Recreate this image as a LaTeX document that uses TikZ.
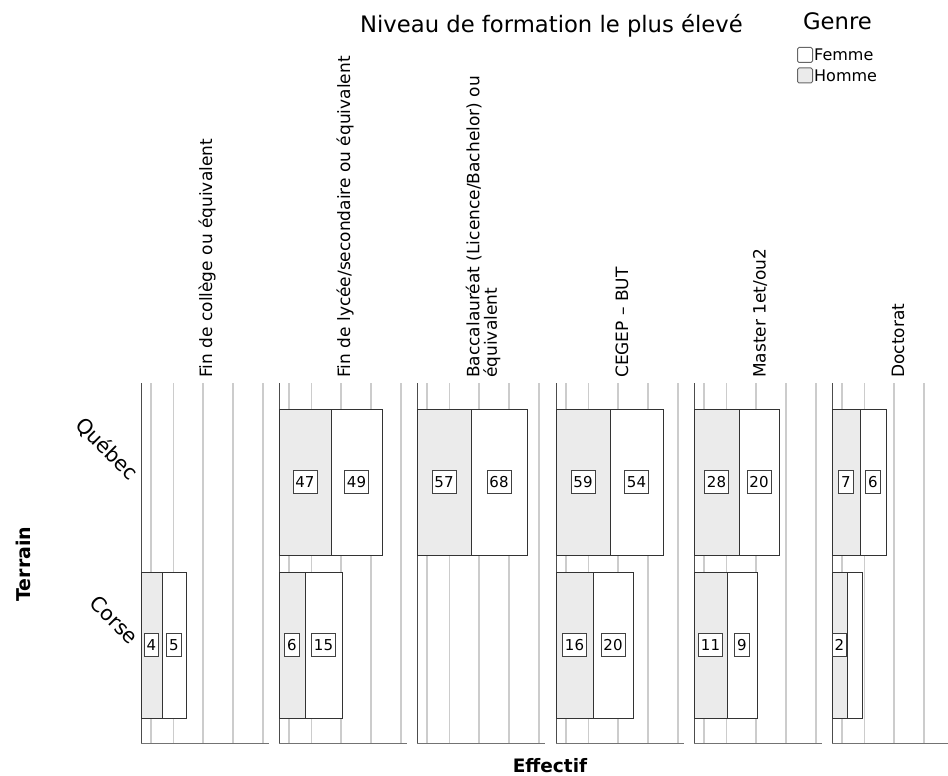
\documentclass[tikz,border=0pt]{standalone}
\usepackage{fontspec}
\setmainfont{DejaVu Sans}
\usepackage{tikz}
\usetikzlibrary{positioning}
\usetikzlibrary{calc}
\definecolor{gris homme}{HTML}{EBEBEB}
\definecolor{gris grille}{HTML}{CCCCCC}
\definecolor{gris trait}{HTML}{333333}
\tikzset{grille/.style={draw=gris grille,line width=1.2pt}}
\tikzset{bordure/.style={draw=black!70,line width=1pt}}
\tikzset{axe/.style={draw=black!55,line width=1pt}}
\tikzset{homme/.style={fill=gris homme,draw=gris trait,line width=0.9pt}}
\tikzset{femme/.style={fill=white,draw=gris trait,line width=0.9pt}}
\tikzset{etiquette/.style={draw=black!75,fill=white,line width=0.7pt,inner xsep=2.5pt,inner ysep=0pt,minimum height=23pt,font=\fontsize{15}{16}\selectfont}}
\tikzset{entete/.style={rotate=90,anchor=west,inner sep=0pt,align=left,font=\fontsize{17}{17.5}\selectfont}}
\tikzset{legende/.style={draw=black!60,line width=1pt,rounded corners=1.5pt,minimum size=15pt,inner sep=0pt}}
% grille d'un panneau, a l'origine du scope
\newcommand\grillepanneau{
	\foreach \g in {10,32.5,62,92,122}
		\draw[grille] (\g,383) -- (\g,743);
	\draw[bordure] (0,383) -- (0,743);
	\draw[axe] (0,743) -- (128,743);
}
% #1 haut, #2 fin homme, #3 fin femme, #4 et #5 effectifs, #6 nom
\newcommand\paire[6]{
	\draw[homme] (0,#1) rectangle (#2,#1+146);
	\draw[femme] (#2,#1) rectangle (#3,#1+146);
	\node[etiquette] (#6h) at (#2/2,#1+73) {#4};
	\node[etiquette] (#6f) at ({(#2+#3)/2},#1+73) {#5};
}

\begin{document}
\begin{tikzpicture}[x=1pt,y=-1pt]
		\useasboundingbox (0,0) rectangle (948,776);
		\clip (0,0) rectangle (948,776);
		\begin{scope}[shift={(141,0)}]
			\grillepanneau
			\node[entete] (college) at (66,378) {Fin de collège ou équivalent};
			\paire{572}{21}{45}{4}{5}{corsecol}
		\end{scope}
		\begin{scope}[shift={(279,0)}]
			\grillepanneau
			\node[entete] (lycee) at (66,378) {Fin de lycée/secondaire ou équivalent};
			\paire{409}{52}{103}{47}{49}{quebeclyc}
			\paire{572}{26}{63}{6}{15}{corselyc}
		\end{scope}
		\begin{scope}[shift={(417,0)}]
			\grillepanneau
			\node[entete] (bac) at (66,378) {Baccalauréat (Licence/Bachelor) ou\\équivalent};
			\paire{409}{54}{110}{57}{68}{quebecbac}
		\end{scope}
		\begin{scope}[shift={(556,0)}]
			\grillepanneau
			\node[entete] (cegep) at (66,378) {CEGEP – BUT};
			\paire{409}{54}{107}{59}{54}{quebecceg}
			\paire{572}{37}{77}{16}{20}{corseceg}
		\end{scope}
		\begin{scope}[shift={(694,0)}]
			\grillepanneau
			\node[entete] (master) at (66,378) {Master 1et/ou2};
			\paire{409}{45}{85}{28}{20}{quebecmas}
			\paire{572}{33}{63}{11}{9}{corsemas}
		\end{scope}
		\begin{scope}[shift={(832,0)}]
			\grillepanneau
			\node[entete] (doctorat) at (66,378) {Doctorat};
			\paire{409}{28}{54}{7}{6}{quebecdoc}
			\draw[homme] (0,572) rectangle (15,718);
			\draw[femme] (15,572) rectangle (30,718);
			\node[etiquette,inner xsep=2pt] (corsedoch) at (7.5,645) {2};
		\end{scope}
		% titres et legende
		\node[anchor=base,font=\fontsize{22.7}{24}\selectfont] (titre) at (551.5,33) {Niveau de formation le plus élevé};
		\node[anchor=base,font=\fontsize{22.7}{24}\selectfont] (genre) at (837.5,30) {Genre};
		\node[legende,fill=white] (carrefemme) at (805,55) {};
		\node[legende,fill=gris homme] (carrehomme) at (805,75.5) {};
		\node[right=1pt of carrefemme,inner sep=0pt,font=\fontsize{16}{17}\selectfont] (femme) {Femme};
		\node[right=1pt of carrehomme,inner sep=0pt,font=\fontsize{16}{17}\selectfont] (homme) {Homme};
		\node[rotate=-45,anchor=base east,inner sep=0pt,font=\fontsize{20.5}{21}\selectfont] (quebec) at (130,482) {Québec};
		\node[rotate=-45,anchor=base east,inner sep=0pt,font=\fontsize{20.5}{21}\selectfont] (corse) at (130,646) {Corse};
		\node[rotate=90,font=\bfseries\fontsize{19}{20}\selectfont] (terrain) at (23,564) {Terrain};
		\node[anchor=base,inner sep=0pt,font=\bfseries\fontsize{18.5}{20}\selectfont] (effectif) at (550,772) {Effectif};
	\end{tikzpicture}
\end{document}
